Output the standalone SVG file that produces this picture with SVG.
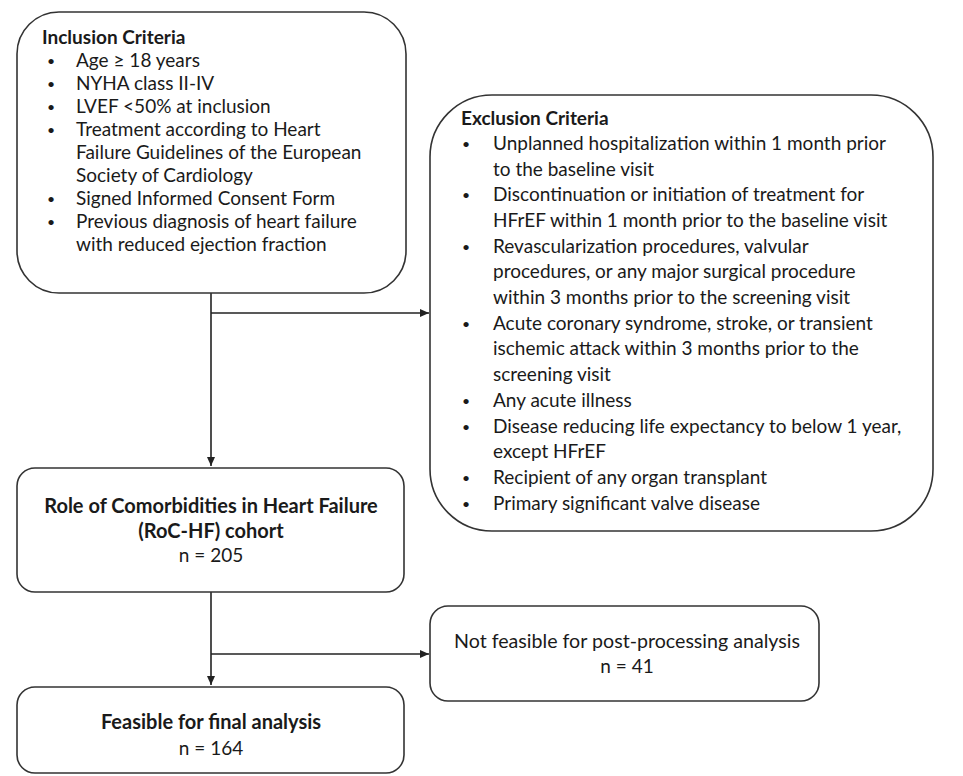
<svg xmlns="http://www.w3.org/2000/svg" width="963" height="776" viewBox="0 0 963 776">
<defs>
<marker id="arr" markerWidth="10" markerHeight="10" refX="9" refY="5" orient="auto" markerUnits="userSpaceOnUse">
<path d="M0,1 L9,5 L0,9 Z" fill="#222"/>
</marker>
<style>
.box{fill:#fff;stroke:#333;stroke-width:1.6}
.t{font-family:Lato,"Liberation Sans",Arial,sans-serif;fill:#1a1a1a}
.inc{font-size:19px}
.exc{font-size:19px}
.bu{font-size:14px}
.big{font-size:20px}
.b{font-weight:bold}
.c{text-anchor:middle}
.ln{stroke:#222;stroke-width:1.6;fill:none}
</style>
</defs>
<rect width="963" height="776" fill="#fff"/>
<g id="connectors">
<path class="ln" d="M211,293 V466" marker-end="url(#arr)"/>
<path class="ln" d="M211,313 H429" marker-end="url(#arr)"/>
<path class="ln" d="M211,592 V685" marker-end="url(#arr)"/>
<path class="ln" d="M211,654 H429" marker-end="url(#arr)"/>
</g>
<g id="inclusion">
<rect class="box" x="17" y="12" width="389" height="281" rx="42" ry="42"/>
<text class="t inc b" x="42" y="44">Inclusion Criteria</text>
<g class="t inc">
<text class="bu" x="47" y="66">•</text><text x="76" y="67">Age ≥ 18 years</text>
<text class="bu" x="47" y="89">•</text><text x="76" y="90">NYHA class II-IV</text>
<text class="bu" x="47" y="112">•</text><text x="76" y="113">LVEF &lt;50% at inclusion</text>
<text class="bu" x="47" y="135">•</text><text x="76" y="136">Treatment according to Heart</text>
<text x="76" y="159">Failure Guidelines of the European</text>
<text x="76" y="182">Society of Cardiology</text>
<text class="bu" x="47" y="204">•</text><text x="76" y="205">Signed Informed Consent Form</text>
<text class="bu" x="47" y="227">•</text><text x="76" y="228">Previous diagnosis of heart failure</text>
<text x="76" y="251">with reduced ejection fraction</text>
</g>
</g>
<g id="exclusion">
<rect class="box" x="430" y="95" width="503" height="436" rx="62" ry="62"/>
<text class="t exc b" x="461" y="125">Exclusion Criteria</text>
<g class="t exc">
<text class="bu" x="462" y="149">•</text><text x="493" y="150">Unplanned hospitalization within 1 month prior</text>
<text x="493" y="176">to the baseline visit</text>
<text class="bu" x="462" y="200">•</text><text x="493" y="201">Discontinuation or initiation of treatment for</text>
<text x="493" y="227">HFrEF within 1 month prior to the baseline visit</text>
<text class="bu" x="462" y="252">•</text><text x="493" y="253">Revascularization procedures, valvular</text>
<text x="493" y="278">procedures, or any major surgical procedure</text>
<text x="493" y="304">within 3 months prior to the screening visit</text>
<text class="bu" x="462" y="329">•</text><text x="493" y="330">Acute coronary syndrome, stroke, or transient</text>
<text x="493" y="355">ischemic attack within 3 months prior to the</text>
<text x="493" y="381">screening visit</text>
<text class="bu" x="462" y="406">•</text><text x="493" y="407">Any acute illness</text>
<text class="bu" x="462" y="432">•</text><text x="493" y="433">Disease reducing life expectancy to below 1 year,</text>
<text x="493" y="458">except HFrEF</text>
<text class="bu" x="462" y="483">•</text><text x="493" y="484">Recipient of any organ transplant</text>
<text class="bu" x="462" y="509">•</text><text x="493" y="510">Primary significant valve disease</text>
</g>
</g>
<g id="cohort">
<rect class="box" x="17" y="468" width="387" height="124" rx="18" ry="18"/>
<text class="t big b c" x="211" y="513">Role of Comorbidities in Heart Failure</text>
<text class="t big b c" x="211" y="538">(RoC-HF) cohort</text>
<text class="t inc c" x="211" y="562">n = 205</text>
</g>
<g id="notfeasible">
<rect class="box" x="430" y="606" width="389" height="95" rx="18" ry="18"/>
<text class="t inc c" x="627" y="648" textLength="346" lengthAdjust="spacingAndGlyphs">Not feasible for post-processing analysis</text>
<text class="t inc c" x="627" y="673">n = 41</text>
</g>
<g id="feasible">
<rect class="box" x="17" y="687" width="387" height="86" rx="18" ry="18"/>
<text class="t big b c" x="211" y="729">Feasible for final analysis</text>
<text class="t inc c" x="211" y="755">n = 164</text>
</g>
</svg>
